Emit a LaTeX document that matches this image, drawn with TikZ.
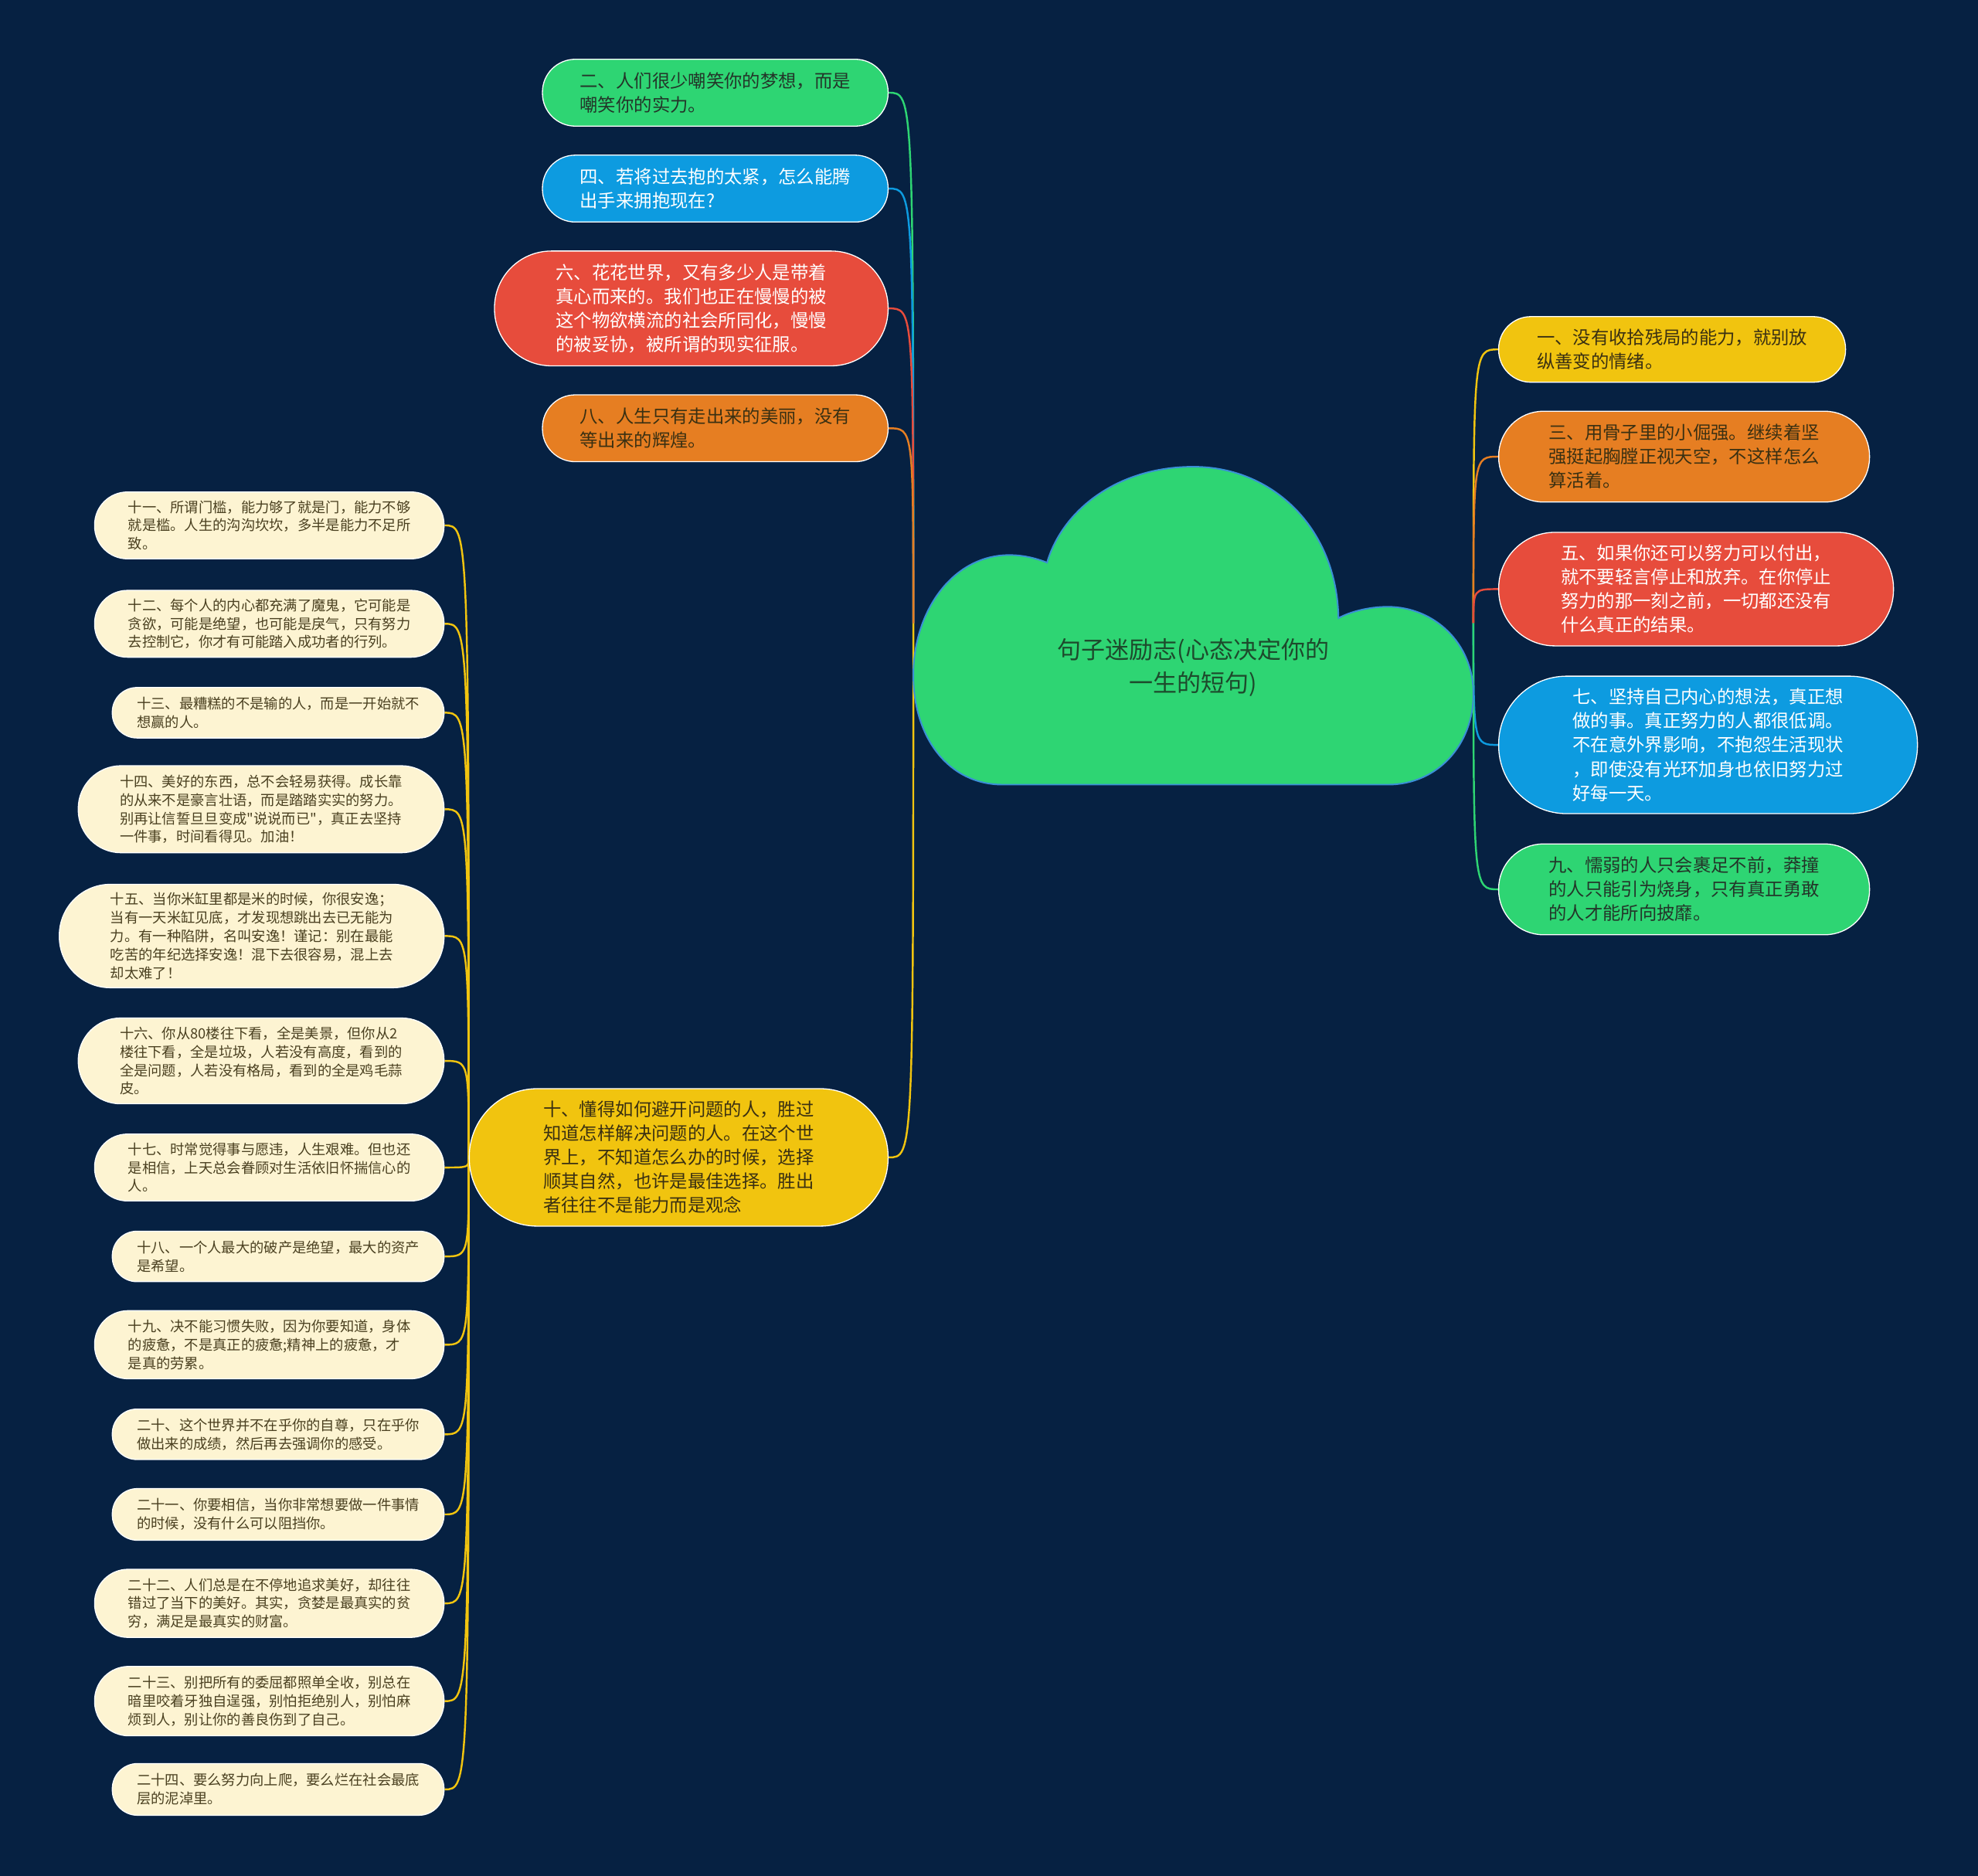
\documentclass[tikz,border=0pt]{standalone}
\usepackage{fontspec}
\newfontfamily\cjk{Noto Sans CJK SC}
\usetikzlibrary{backgrounds}
\definecolor{bgc}{HTML}{062142}
\definecolor{cgreen}{HTML}{2ED573}
\definecolor{cblue}{HTML}{0D9BE0}
\definecolor{cred}{HTML}{E74C3C}
\definecolor{corange}{HTML}{E67E22}
\definecolor{cyellow}{HTML}{F1C40F}
\definecolor{cream}{HTML}{FDF4D2}
\definecolor{darkt}{HTML}{233529}
\definecolor{browntext}{HTML}{3A3012}
\definecolor{leaftext}{HTML}{4A4020}
\definecolor{titletext}{HTML}{1D4A2C}
\definecolor{cloudline}{HTML}{3A8FD6}
\tikzset{
  base/.style={draw=white, line width=0.8pt, inner sep=0pt, align=left, shape=rectangle},
  big/.style={base, font={\cjk\fontsize{14.3}{19}\selectfont}},
  leaf/.style={base, fill=cream, text=leaftext, font={\cjk\fontsize{11.2}{14.6}\selectfont}},
  sz/.style n args={3}{minimum width=#1pt, minimum height=#2pt, rounded corners=#3pt},
  conn/.style={line width=1.5pt},
}
\begin{document}
\begin{tikzpicture}[x=1pt, y=-1pt]
\useasboundingbox (0,0) rectangle (1568,1487);
% cloud
\draw[fill=cgreen, draw=cloudline, line width=1.2pt]
  (795,622) -- (1100,622)
  .. controls (1140,622) and (1168,590) .. (1168,550)
  .. controls (1168,510) and (1137,481) .. (1100,481)
  .. controls (1085,481) and (1070,485) .. (1061,490)
  .. controls (1060,420) and (1010,370) .. (946,370)
  .. controls (885,370) and (842,405) .. (830,446)
  .. controls (820,442) and (810,440) .. (800,440)
  .. controls (755,440) and (724,485) .. (724,535)
  .. controls (724,585) and (752,622) .. (795,622) -- cycle;
\node[font={\cjk\fontsize{19}{26}\selectfont}, text=titletext, align=center] (title) at (946,529) {句子迷励志(心态决定你的\\一生的短句)};
\coordinate (cl) at (724,494);
\coordinate (cr) at (1168,494);
% top-left
\node[big, fill=cgreen, text=darkt, sz={274}{53}{26}] (n2) at (567,73.5) {二、人们很少嘲笑你的梦想，而是\\嘲笑你的实力。};
\node[big, fill=cblue, text=white, sz={274}{53}{26}] (n4) at (567,149.5) {四、若将过去抱的太紧，怎么能腾\\出手来拥抱现在?};
\node[big, fill=cred, text=white, sz={312}{91}{45}] (n6) at (548,244.5) {六、花花世界，又有多少人是带着\\真心而来的。我们也正在慢慢的被\\这个物欲横流的社会所同化，慢慢\\的被妥协，被所谓的现实征服。};
\node[big, fill=corange, text=browntext, sz={274}{53}{26}] (n8) at (567,339.5) {八、人生只有走出来的美丽，没有\\等出来的辉煌。};
\node[big, fill=cyellow, text=browntext, sz={332}{109}{54}] (n10) at (538,917.5) {十、懂得如何避开问题的人，胜过\\知道怎样解决问题的人。在这个世\\界上，不知道怎么办的时候，选择\\顺其自然，也许是最佳选择。胜出\\者往往不是能力而是观念};
% right
\node[big, fill=cyellow, text=browntext, sz={275}{52}{25.5}] (n1) at (1325.5,277) {一、没有收拾残局的能力，就别放\\纵善变的情绪。};
\node[big, fill=corange, text=browntext, sz={294}{72}{35.5}] (n3) at (1335,362) {三、用骨子里的小倔强。继续着坚\\强挺起胸膛正视天空，不这样怎么\\算活着。};
\node[big, fill=cred, text=white, sz={313}{90}{44.5}] (n5) at (1344.5,467) {五、如果你还可以努力可以付出，\\就不要轻言停止和放弃。在你停止\\努力的那一刻之前，一切都还没有\\什么真正的结果。};
\node[big, fill=cblue, text=white, sz={332}{109}{54}] (n7) at (1354,590.5) {七、坚持自己内心的想法，真正想\\做的事。真正努力的人都很低调。\\不在意外界影响，不抱怨生活现状\\，即使没有光环加身也依旧努力过\\好每一天。};
\node[big, fill=cgreen, text=darkt, sz={294}{72}{35.5}] (n9) at (1335,705) {九、懦弱的人只会裹足不前，莽撞\\的人只能引为烧身，只有真正勇敢\\的人才能所向披靡。};
% leaves
\node[leaf, sz={277}{53}{26}] (n11) at (213.5,416.5) {十一、所谓门槛，能力够了就是门，能力不够\\就是槛。人生的沟沟坎坎，多半是能力不足所\\致。};
\node[leaf, sz={277}{53}{26}] (n12) at (213.5,494.5) {十二、每个人的内心都充满了魔鬼，它可能是\\贪欲，可能是绝望，也可能是戾气，只有努力\\去控制它，你才有可能踏入成功者的行列。};
\node[leaf, sz={263}{40}{19.5}] (n13) at (220.5,565) {十三、最糟糕的不是输的人，而是一开始就不\\想赢的人。};
\node[leaf, sz={290}{69}{34}] (n14) at (207,641.5) {十四、美好的东西，总不会轻易获得。成长靠\\的从来不是豪言壮语，而是踏踏实实的努力。\\别再让信誓旦旦变成"说说而已"，真正去坚持\\一件事，时间看得见。加油！};
\node[leaf, sz={305}{82}{40.5}] (n15) at (199.5,742) {十五、当你米缸里都是米的时候，你很安逸；\\当有一天米缸见底，才发现想跳出去已无能为\\力。有一种陷阱，名叫安逸！谨记：别在最能\\吃苦的年纪选择安逸！混下去很容易，混上去\\却太难了！};
\node[leaf, sz={290}{68}{33.5}] (n16) at (207,841) {十六、你从80楼往下看，全是美景，但你从2\\楼往下看，全是垃圾，人若没有高度，看到的\\全是问题，人若没有格局，看到的全是鸡毛蒜\\皮。};
\node[leaf, sz={277}{53}{26}] (n17) at (213.5,925.5) {十七、时常觉得事与愿违，人生艰难。但也还\\是相信，上天总会眷顾对生活依旧怀揣信心的\\人。};
\node[leaf, sz={263}{40}{19.5}] (n18) at (220.5,996) {十八、一个人最大的破产是绝望，最大的资产\\是希望。};
\node[leaf, sz={277}{54}{26.5}] (n19) at (213.5,1066) {十九、决不能习惯失败，因为你要知道，身体\\的疲惫，不是真正的疲惫;精神上的疲惫，才\\是真的劳累。};
\node[leaf, sz={263}{40}{19.5}] (n20) at (220.5,1137) {二十、这个世界并不在乎你的自尊，只在乎你\\做出来的成绩，然后再去强调你的感受。};
\node[leaf, sz={263}{41}{20}] (n21) at (220.5,1200.5) {二十一、你要相信，当你非常想要做一件事情\\的时候，没有什么可以阻挡你。};
\node[leaf, sz={277}{54}{26.5}] (n22) at (213.5,1271) {二十二、人们总是在不停地追求美好，却往往\\错过了当下的美好。其实，贪婪是最真实的贫\\穷，满足是最真实的财富。};
\node[leaf, sz={277}{55}{27}] (n23) at (213.5,1348.5) {二十三、别把所有的委屈都照单全收，别总在\\暗里咬着牙独自逞强，别怕拒绝别人，别怕麻\\烦到人，别让你的善良伤到了自己。};
\node[leaf, sz={263}{41}{20}] (n24) at (220.5,1418.5) {二十四、要么努力向上爬，要么烂在社会最底\\层的泥淖里。};
% connectors and background
\begin{pgfonlayer}{background}
\fill[bgc] (0,0) rectangle (1568,1487);
\foreach \n/\c in {n2/cgreen, n4/cblue, n6/cred, n8/corange, n10/cyellow}
  \draw[conn, \c] (cl) .. controls (cl |- \n.east) and (cl |- \n.east) .. (\n.east);
\foreach \n/\c in {n1/cyellow, n3/corange, n5/cred, n7/cblue, n9/cgreen}
  \draw[conn, \c] (cr) .. controls (cr |- \n.west) and (cr |- \n.west) .. (\n.west);
\foreach \n in {n11,n12,n13,n14,n15,n16,n17,n18,n19,n20,n21,n22,n23,n24}
  \draw[conn, cyellow] (n10.west) .. controls (n10.west |- \n.east) and (n10.west |- \n.east) .. (\n.east);
\end{pgfonlayer}
\end{tikzpicture}
\end{document}
